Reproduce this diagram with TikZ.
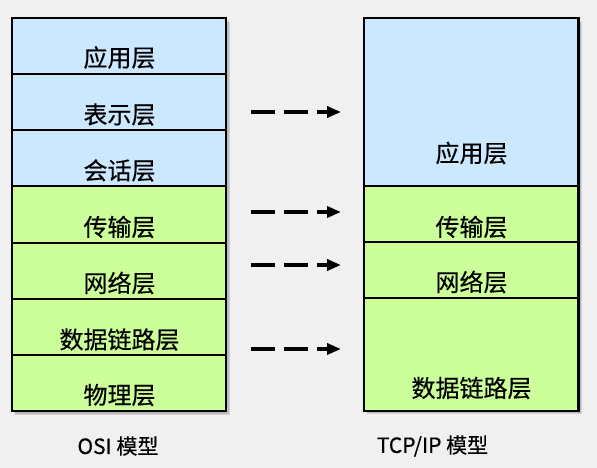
\documentclass[tikz,border=0pt]{standalone}
\usepackage{fontspec}
\setmainfont{Noto Sans CJK SC}[FakeBold=0.4]
\usetikzlibrary{arrows.meta}
\definecolor{bgcol}{HTML}{F0F0F0}
\definecolor{layblue}{HTML}{CCE8FF}
\definecolor{laygreen}{HTML}{CCFF99}
\begin{document}
\begin{tikzpicture}[x=1pt,y=-1pt,
  layer/.style={draw=black, line width=2pt, inner sep=0pt, outer sep=0pt, minimum width=214pt},
  bluelayer/.style={layer, fill=layblue},
  greenlayer/.style={layer, fill=laygreen},
  ltext/.style={font=\fontsize{24}{28}\selectfont, inner sep=0pt},
  captext/.style={font=\fontsize{21}{25}\selectfont, inner sep=0pt},
  frameline/.style={draw=black, line width=2.8pt},
  shadowA/.style={fill=black, opacity=0.12},
  shadowB/.style={fill=black, opacity=0.10},
  maparrow/.style={line width=3.4pt, dash pattern=on 24pt off 9pt, -{Triangle[length=14pt,width=11pt]}}
]
\fill[bgcol] (0,0) rectangle (597,468);
\useasboundingbox (0,0) rectangle (597,468);

% shadows
\fill[shadowA] (15,22) rectangle (230,415);
\fill[shadowB] (14,20) rectangle (228.5,413.5);
\fill[shadowA] (367,22) rectangle (582,414);
\fill[shadowB] (366,20) rectangle (580.5,412.5);

% OSI model rows
\node[bluelayer,  minimum height=56.14pt] (osi1) at (119,46.07) {};
\node[bluelayer,  minimum height=56.14pt] (osi2) at (119,102.21) {};
\node[bluelayer,  minimum height=56.14pt] (osi3) at (119,158.36) {};
\node[greenlayer, minimum height=56.14pt] (osi4) at (119,214.5) {};
\node[greenlayer, minimum height=56.14pt] (osi5) at (119,270.64) {};
\node[greenlayer, minimum height=56.14pt] (osi6) at (119,326.79) {};
\node[greenlayer, minimum height=56.14pt] (osi7) at (119,382.93) {};
\draw[frameline] (osi1.north west) rectangle (osi7.south east);

% TCP/IP model rows
\node[bluelayer,  minimum height=168pt, minimum width=214.5pt] (tcp1) at (471.25,102) {};
\node[greenlayer, minimum height=56pt,  minimum width=214.5pt] (tcp2) at (471.25,214) {};
\node[greenlayer, minimum height=56pt,  minimum width=214.5pt] (tcp3) at (471.25,270) {};
\node[greenlayer, minimum height=113pt, minimum width=214.5pt] (tcp4) at (471.25,354.5) {};
\draw[frameline] (tcp1.north west) rectangle (tcp4.south east);

% texts
\node[ltext] (tosi1) at (119.5,57.5) {应用层};
\node[ltext] (tosi2) at (119.5,114.5) {表示层};
\node[ltext] (tosi3) at (119.5,170.5) {会话层};
\node[ltext] (tosi4) at (119.5,227) {传输层};
\node[ltext] (tosi5) at (119.5,283) {网络层};
\node[ltext] (tosi6) at (119.5,339.5) {数据链路层};
\node[ltext] (tosi7) at (119.5,395) {物理层};

\node[ltext] (ttcp1) at (471.5,153) {应用层};
\node[ltext] (ttcp2) at (471.5,227) {传输层};
\node[ltext] (ttcp3) at (471.5,282) {网络层};
\node[ltext] (ttcp4) at (471.5,388) {数据链路层};

\node[captext] (cosi) at (118,446) {OSI 模型};
\node[captext] (ctcp) at (432.5,446) {TCP/IP 模型};

% arrows
\coordinate (a1s) at (251,112); \coordinate (a1e) at (341,112);
\coordinate (a2s) at (251,212); \coordinate (a2e) at (341,212);
\coordinate (a3s) at (251,265); \coordinate (a3e) at (341,265);
\coordinate (a4s) at (251,349); \coordinate (a4e) at (341,349);
\draw[maparrow] (a1s) -- (a1e);
\draw[maparrow] (a2s) -- (a2e);
\draw[maparrow] (a3s) -- (a3e);
\draw[maparrow] (a4s) -- (a4e);
\end{tikzpicture}
\end{document}
